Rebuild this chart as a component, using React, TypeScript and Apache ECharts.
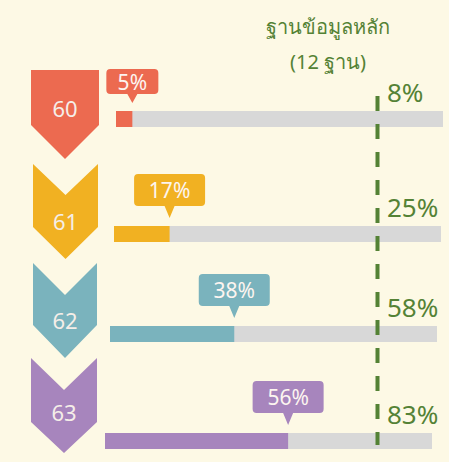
import React, { useEffect, useRef } from "react";
import * as echarts from "echarts";

const years = ["60", "61", "62", "63"];
const values = [5, 17, 38, 56];
const mainDb = [8, 25, 58, 83];
const colors = ["#ec6a50", "#f1b122", "#7ab3bd", "#a785bd"];
const titleLines = ["ฐานข้อมูลหลัก", "(12 ฐาน)"];

const GREEN = "#548235";
const BG = "#fdf9e5";
const gridLefts = [116, 114, 110, 105];
const barTops = [111, 226, 326, 433];
const BAR_W = 327;
const BAR_H = 16;

function calloutPath(w: number, h: number, p: number, r: number) {
  const c = w / 2;
  const b = 5;
  return (
    "path://" +
    `M${r},0 L${w - r},0 Q${w},0 ${w},${r} L${w},${h - r} Q${w},${h} ${w - r},${h} ` +
    `L${c + b},${h} L${c},${h + p} L${c - b},${h} L${r},${h} Q0,${h} 0,${h - r} L0,${r} Q0,0 ${r},0 Z`
  );
}

const chevrons = [
  [[31, 70], [99, 70], [99, 125], [65, 159], [31, 125]],
  [[33, 164], [65.5, 195], [98, 164], [98, 227], [65.5, 259], [33, 227]],
  [[33, 263], [65, 295], [97, 263], [97, 325], [65, 358], [33, 325]],
  [[31, 358], [64, 390], [97, 358], [97, 422], [64, 453], [31, 422]],
];
const chevronTextY = [108, 221, 320, 412];
const chevronTextX = [65, 65.5, 65, 64];

export default function App() {
  const ref = useRef<HTMLDivElement>(null);
  useEffect(() => {
    document.body.style.margin = "0";
    document.body.style.background = BG;
    const chart = echarts.init(ref.current!, undefined, { renderer: "svg" });
    const font = "'Noto Sans', sans-serif";

    const grids = years.map((_, i) => ({
      left: gridLefts[i],
      top: barTops[i],
      width: BAR_W,
      height: BAR_H,
    }));
    const xAxes = years.map((_, i) => ({
      type: "value",
      gridIndex: i,
      min: 0,
      max: 100,
      show: false,
    }));
    const yAxes = years.map((y, i) => ({
      type: "category",
      gridIndex: i,
      data: [y],
      show: false,
    }));
    const series = years.map((y, i) => {
      const small = String(values[i]).length < 2;
      const w = small ? 52 : 71;
      const h = small ? 25 : 32;
      const p = small ? 9 : 12;
      return {
        type: "bar",
        name: y,
        xAxisIndex: i,
        yAxisIndex: i,
        barWidth: BAR_H,
        showBackground: true,
        backgroundStyle: { color: "#d8d8d8" },
        itemStyle: { color: colors[i] },
        data: [values[i]],
        markPoint: {
          silent: true,
          data: [
            {
              coord: [values[i], 0],
              symbol: calloutPath(w, h, p, 4),
              symbolSize: [w, h + p],
              symbolKeepAspect: false,
              symbolOffset: [0, -((h + p) / 2 + 16)],
              itemStyle: { color: colors[i] },
              label: {
                show: true,
                formatter: values[i] + "%",
                color: "#fdf5f0",
                fontSize: 21,
                fontFamily: font,
                offset: [0, -p / 2],
              },
            },
          ],
        },
      };
    });

    const graphic: any[] = [];
    chevrons.forEach((pts, i) => {
      graphic.push({
        type: "polygon",
        shape: { points: pts },
        style: { fill: colors[i] },
        z: 5,
      });
      graphic.push({
        type: "text",
        x: chevronTextX[i],
        y: chevronTextY[i],
        style: {
          text: years[i],
          fill: "#f5eee8",
          font: `22px ${font}`,
          textAlign: "center",
          textVerticalAlign: "middle",
        },
        z: 6,
      });
    });
    graphic.push({
      type: "line",
      shape: { x1: 377.5, y1: 96, x2: 377.5, y2: 445 },
      style: { stroke: GREEN, lineWidth: 4, lineDash: [15, 13] },
      z: 20,
    });
    mainDb.forEach((v, i) => {
      graphic.push({
        type: "text",
        x: 387,
        y: barTops[i] - 19,
        style: {
          text: v + "%",
          fill: GREEN,
          font: `26px ${font}`,
          textAlign: "left",
          textVerticalAlign: "middle",
        },
        z: 20,
      });
    });
    titleLines.forEach((t, i) => {
      graphic.push({
        type: "text",
        x: 328,
        y: 26 + i * 35,
        style: {
          text: t,
          fill: GREEN,
          font: `20px ${font}`,
          textAlign: "center",
          textVerticalAlign: "middle",
        },
        z: 20,
      });
    });

    chart.setOption({
      animation: false,
      backgroundColor: BG,
      grid: grids,
      xAxis: xAxes,
      yAxis: yAxes,
      series,
      graphic,
    });
    return () => chart.dispose();
  }, []);
  return <div ref={ref} style={{ width: 449, height: 462 }} />;
}
